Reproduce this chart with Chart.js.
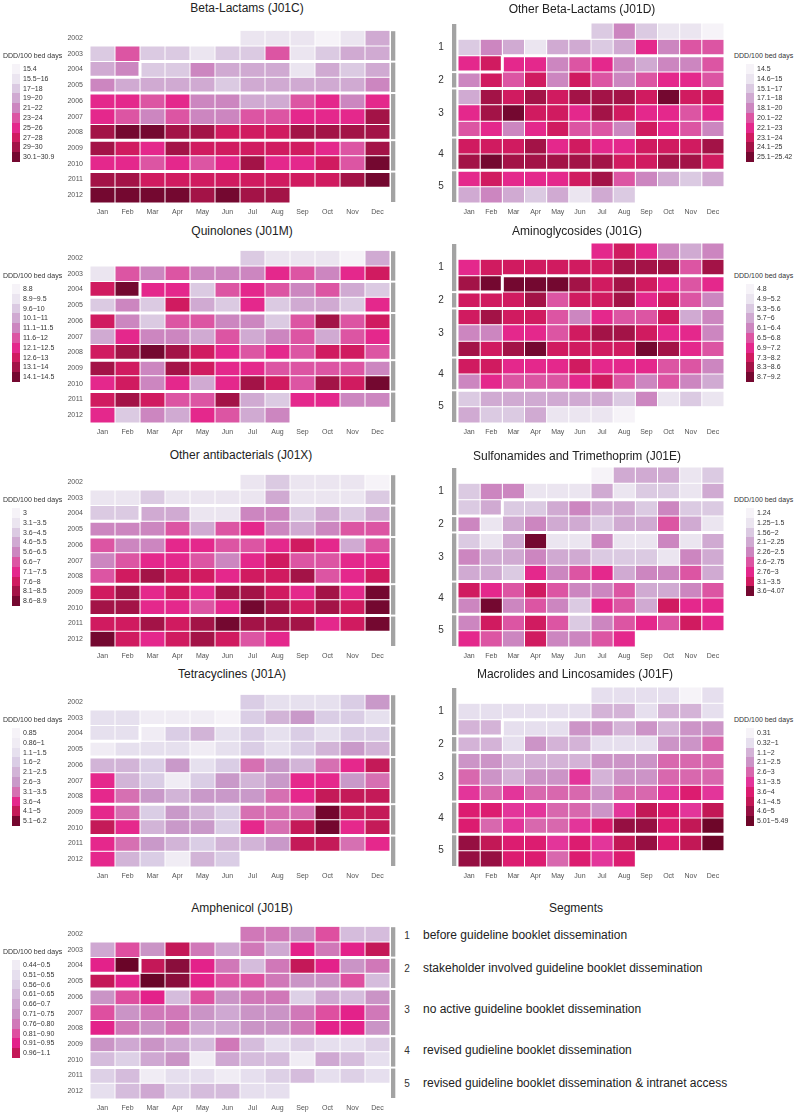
<!DOCTYPE html>
<html><head><meta charset="utf-8">
<script src="https://cdn.jsdelivr.net/npm/chart.js@4.4.1/dist/chart.umd.min.js"></script>
<style>
body{margin:0;background:#fff;width:798px;height:1116px;position:relative;overflow:hidden;font-family:"Liberation Sans",Arial,sans-serif}
canvas{position:absolute}
.tt{position:absolute;font-size:12px;color:#222;white-space:nowrap;transform:translate(-50%,-50%)}
.lt{position:absolute;font-size:7px;color:#333;white-space:nowrap;line-height:8px}
.lb{position:absolute;width:8px}
.sn{position:absolute;font-size:10px;color:#333;transform:translate(-50%,-50%)}
.sl{position:absolute;font-size:12px;color:#222;white-space:nowrap;transform:translateY(-50%)}
</style></head><body>
<script>
const months=['Jan','Feb','Mar','Apr','May','Jun','Jul','Aug','Sep','Oct','Nov','Dec'];
const years=['2002','2003','2004','2005','2006','2007','2008','2009','2010','2011','2012'];
// segment start (year, month)
const segStarts=[[2002,7],[2004,3],[2006,1],[2009,1],[2011,1]];
const segLabels=['before guideline booklet dissemination','stakeholder involved guideline booklet dissemination',
  'no active guideline booklet dissemination','revised gudieline booklet dissemination',
  'revised guideline booklet dissemination & intranet access'];
const _=null;

// cell values = legend class (0 = lowest bin)
const betaLactams=[
 [_,_,_,_,_,_,1,1,1,0,1,3],[2,5,2,2,1,2,2,5,1,2,3,3],[3,4,2,2,4,3,3,3,1,3,2,3],[4,3,3,3,3,2,3,3,3,3,3,4],
 [6,6,5,6,4,4,3,3,5,6,4,6],[6,5,4,5,4,4,5,5,6,6,6,8],[8,9,9,8,8,7,7,7,8,8,8,8],[8,7,6,8,7,7,7,7,7,6,5,8],
 [6,6,5,6,5,6,8,6,6,7,5,9],[8,8,7,7,7,7,7,7,7,7,8,9],[9,9,9,9,8,9,8,8,_,_,_,_]];
const betaBins=['15.4','15.5−16','17−18','19−20','21−22','23−24','25−26','27−28','29−30','30.1−30.9'];

const otherBeta=[
 [_,_,_,_,_,_,2,4,2,1,1,0],[2,4,3,1,3,3,2,3,6,4,5,5],[6,7,6,6,4,5,6,4,3,4,4,5],[4,7,5,7,4,7,5,4,5,6,6,5],
 [3,8,7,8,7,8,8,8,7,9,7,7],[6,8,9,7,7,6,8,7,6,6,5,6],[5,6,4,6,7,5,5,4,7,6,5,4],[7,7,7,8,6,7,6,6,7,7,7,8],
 [8,9,8,8,8,8,8,7,7,8,8,7],[6,7,6,6,6,7,8,5,4,3,2,3],[3,4,3,2,3,1,3,2,_,_,_,_]];
const otherBetaBins=['14.5','14.6−15','15.1−17','17.1−18','18.1−20','20.1−22','22.1−23','23.1−24','24.1−25','25.1−25.42'];

const quinolones=[
 [_,_,_,_,_,_,2,1,1,1,0,3],[1,5,4,5,4,4,4,6,5,4,6,7],[7,9,6,6,2,5,6,5,4,5,3,2],[2,4,2,7,3,2,6,2,3,3,2,6],
 [7,4,2,5,5,4,4,2,5,8,5,7],[3,6,4,4,3,5,3,4,5,3,5,6],[7,8,9,8,7,6,5,6,5,7,7,5],[8,7,4,8,7,6,6,5,5,5,5,4],
 [6,7,4,6,3,6,8,7,5,8,7,9],[7,8,7,5,5,8,3,2,6,6,4,4],[6,2,4,3,6,5,3,4,_,_,_,_]];
const quinBins=['8.8','8.9−9.5','9.6−10','10.1−11','11.1−11.5','11.6−12','12.1−12.5','12.6−13','13.1−14','14.1−14.5'];

const aminoglycosides=[
 [_,_,_,_,_,_,6,7,6,4,3,4],[6,7,7,7,7,7,7,8,8,8,5,8],[8,9,9,9,9,8,7,8,7,6,5,6],[7,7,7,8,5,7,7,8,6,7,5,4],
 [7,8,7,7,5,4,6,5,5,7,3,4],[4,4,6,6,5,7,8,8,7,6,6,4],[8,7,8,9,7,7,7,7,9,8,6,5],[7,7,6,6,6,7,6,6,6,5,5,4],
 [4,6,5,5,5,6,7,5,4,5,4,3],[2,3,3,3,3,3,3,2,4,1,2,1],[3,2,2,3,1,1,1,0,_,_,_,_]];
const aminoBins=['4.8','4.9−5.2','5.3−5.6','5.7−6','6.1−6.4','6.5−6.8','6.9−7.2','7.3−8.2','8.3−8.6','8.7−9.2'];

const otherAnti=[
 [_,_,_,_,_,_,1,2,1,1,1,0],[1,1,2,1,1,1,1,3,1,1,1,2],[2,2,3,3,1,1,4,4,2,3,2,3],[4,4,4,5,3,5,6,4,3,4,5,5],
 [5,4,4,6,6,5,5,6,7,6,3,5],[4,5,6,6,5,4,6,7,5,5,6,6],[5,7,8,7,7,6,7,7,8,5,6,7],[7,8,6,7,6,8,8,7,6,8,6,9],
 [8,8,6,6,5,6,9,8,7,8,7,9],[7,7,8,7,8,9,8,8,8,6,7,9],[9,7,6,7,8,7,5,6,_,_,_,_]];
const otherAntiBins=['3','3.1−3.5','3.6−4.5','4.6−5.5','5.6−6.5','6.6−7','7.1−7.5','7.6−8','8.1−8.5','8.6−8.9'];

const sulfonamides=[
 [_,_,_,_,_,_,0,3,3,3,1,2],[2,4,4,1,1,1,3,1,2,2,1,3],[2,3,2,2,3,4,3,3,2,4,2,2],[4,1,3,4,3,3,2,3,3,5,3,1],
 [2,1,3,8,1,1,4,1,1,4,1,3],[4,3,3,4,3,3,2,2,2,1,4,3],[3,3,2,6,4,5,6,3,4,4,5,3],[7,6,5,7,5,4,4,5,3,3,4,5],
 [4,8,4,5,4,2,6,5,3,7,6,6],[4,7,5,7,5,2,4,5,6,5,7,6],[6,5,4,7,4,4,5,6,_,_,_,_]];
const sulfoBins=['1.24','1.25−1.5','1.56−2','2.1−2.25','2.26−2.5','2.6−2.75','2.76−3','3.1−3.5','3.6−4.07'];

const tetracyclines=[
 [_,_,_,_,_,_,3,2,2,2,3,5],[2,2,1,1,1,0,3,4,5,3,3,2],[2,2,1,3,4,2,3,2,3,2,3,3],[1,2,2,2,1,2,3,2,3,4,5,4],
 [4,4,3,5,2,3,6,5,4,6,7,8],[7,4,3,1,3,5,4,5,7,7,5,6],[7,6,5,4,5,5,5,6,7,8,8,8],[7,6,3,5,4,3,6,6,6,9,8,8],
 [8,7,4,5,5,3,7,6,8,9,7,8],[7,6,5,4,3,4,4,5,8,8,6,7],[7,4,3,1,4,3,_,_,_,_,_,_]];
const tetraBins=['0.85','0.86−1','1.1−1.5','1.6−2','2.1−2.5','2.6−3','3.1−3.5','3.6−4','4.1−5','5.1−6.2'];

const macrolides=[
 [_,_,_,_,_,_,1,1,1,1,0,1],[1,1,1,1,1,1,2,2,1,2,2,1],[2,2,1,1,1,3,3,2,3,2,3,3],[2,2,1,3,2,2,1,1,1,3,3,4],
 [3,3,2,2,2,2,3,3,3,4,4,4],[4,3,2,3,3,5,2,3,3,4,4,4],[5,4,5,4,4,4,3,4,4,5,6,5],[6,6,5,5,4,4,3,5,7,6,5,7],
 [6,4,5,4,4,5,6,8,8,6,7,9],[8,7,6,6,5,6,5,7,8,6,7,9],[8,8,6,6,4,6,5,6,_,_,_,_]];
const macroBins=['0.31','0.32−1','1.1−2','2.1−2.5','2.6−3','3.1−3.5','3.6−4','4.1−4.5','4.6−5','5.01−5.49'];

const amphenicol=[
 [_,_,_,_,_,_,6,6,5,7,3,3],[4,7,5,9,6,4,6,4,8,6,8,9],[8,11,9,10,8,6,3,6,9,8,5,6],[9,8,11,10,8,7,7,6,5,5,7,3],
 [5,7,8,3,7,5,6,6,2,4,3,5],[7,5,6,6,5,4,5,5,6,7,8,6],[8,6,5,6,4,4,5,5,6,8,8,5],[5,4,5,4,3,6,3,1,2,1,1,2],
 [3,2,4,5,0,4,3,3,0,4,3,1],[2,3,0,1,1,0,1,2,3,1,2,1],[1,3,4,2,3,3,1,1,_,_,_,_]];
const amphBins=['0.44−0.5','0.51−0.55','0.56−0.6','0.61−0.65','0.66−0.7','0.71−0.75','0.76−0.80','0.81−0.90','0.91−0.95','0.96−1.1'];

// colour ramps
const palStd=['#f6f3f8','#ebe5f0','#dbcae2','#d0aad2','#cc86c0','#dc55a3','#e4288c','#d01b60','#a31347','#740830'];
const palSulfo=palStd.filter((c,i)=>i!==8);
const palTetra=['#f6f3f8','#f0ecf4','#e6e0ee','#dacde5','#d2b4d7','#c999c9','#d670b2','#e5288c','#c41a58','#74072e'];
const palMacro=['#f6f3f8','#e6dfee','#d4b3d7','#cc94c7','#d868ae','#e3359a','#dc1c70','#c21856','#960f42','#6e0629'];
const palAmph=['#f0ecf4','#e6dfee','#ddd0e6','#d5bcdc','#cfa8d2','#ca94c6','#d078b8','#de4fa0','#e3228a','#c41858','#8a0e3c','#6a0528'];

const panels=[
 {title:'Beta-Lactams (J01C)',rows:betaLactams,bins:betaBins,pal:palStd,col:'L',top:23,tx:247,ty:8},
 {title:'Other Beta-Lactams (J01D)',rows:otherBeta,bins:otherBetaBins,pal:palStd,col:'R',top:23,tx:582,ty:9},
 {title:'Quinolones (J01M)',rows:quinolones,bins:quinBins,pal:palStd,col:'L',top:243,tx:242,ty:231},
 {title:'Aminoglycosides (J01G)',rows:aminoglycosides,bins:aminoBins,pal:palStd,col:'R',top:243,tx:577,ty:231},
 {title:'Other antibacterials (J01X)',rows:otherAnti,bins:otherAntiBins,pal:palStd,col:'L',top:467,tx:241,ty:455},
 {title:'Sulfonamides and Trimethoprim (J01E)',rows:sulfonamides,bins:sulfoBins,pal:palSulfo,col:'R',top:467,tx:577,ty:456},
 {title:'Tetracyclines (J01A)',rows:tetracyclines,bins:tetraBins,pal:palTetra,col:'L',top:687,tx:232,ty:674},
 {title:'Macrolides and Lincosamides (J01F)',rows:macrolides,bins:macroBins,pal:palMacro,col:'R',top:687,tx:575,ty:674},
 {title:'Amphenicol (J01B)',rows:amphenicol,bins:amphBins,pal:palAmph,col:'L',top:919,tx:242,ty:908}
];

const FONT='"Liberation Sans", Arial, sans-serif';
Chart.defaults.font.family=FONT;
const rowH=180/11;

function segOf(r,m){
  const key=(2002+r)*12+m; let s=0;
  segStarts.forEach((d,i)=>{ if(key>=d[0]*12+d[1]-1) s=i; });
  return s;
}
function runs(m){
  const out=[]; let start=0;
  for(let r=1;r<=11;r++){
    if(r===11||segOf(r,m)!==segOf(start,m)){ out.push([start,r,segOf(start,m)]); start=r; }
  }
  return out;
}
function cellBorder(r,m){
  const s=segOf(r,m);
  const side=(r2,m2)=>(r2<0||r2>10||m2<0||m2>11)?0.5:(segOf(r2,m2)!==s?1.5:0.5);
  return {top:side(r-1,m),bottom:side(r+1,m),left:side(r,m-1),right:side(r,m+1)};
}

const segBars={id:'segBars',afterDraw(chart,args,o){
  const {ctx,chartArea:ca,scales:{y}}=chart;
  const L=o.col==='L';
  runs(L?11:0).forEach(([a,b,s])=>{
    const y0=y.getPixelForValue(a)+1, y1=y.getPixelForValue(b)-1;
    ctx.fillStyle='#a3a3a3';
    ctx.fillRect(L?ca.right+1:ca.left-6,y0,4.3,y1-y0);
    if(!L){
      ctx.fillStyle='#333'; ctx.font='10px '+FONT; ctx.textAlign='center'; ctx.textBaseline='middle';
      ctx.fillText(String(s+1),ca.left-17,(y0+y1)/2);
    }
  });
}};

function el(cls,css,text){
  const d=document.createElement('div'); d.className=cls; d.style.cssText=css;
  if(text!=null) d.textContent=text; document.body.appendChild(d); return d;
}

panels.forEach(p=>{
  const L=p.col==='L';
  const W=L?342:334, H=202;
  const cv=document.createElement('canvas');
  cv.width=W; cv.height=H;
  cv.style.cssText=`left:${L?56:396}px;top:${p.top-4}px;width:${W}px;height:${H}px`;
  document.body.appendChild(cv);
  const datasets=p.rows.map((row,r)=>({
    data:row.map(v=>v==null?null:[r,r+1]),
    backgroundColor:row.map(v=>v==null?'rgba(0,0,0,0)':p.pal[v]),
    borderColor:'#fff',
    borderWidth:c=>cellBorder(r,c.dataIndex),
    borderSkipped:false,inflateAmount:0,grouped:false,barPercentage:1,categoryPercentage:1
  }));
  new Chart(cv,{type:'bar',data:{labels:months,datasets},
    options:{responsive:false,animation:false,devicePixelRatio:1,
      layout:{padding:L?{left:0,right:8,top:4,bottom:2}:{left:28,right:6,top:4,bottom:2}},
      plugins:{legend:{display:false},tooltip:{enabled:false},segBars:{col:p.col}},
      scales:{
        x:{type:'category',offset:true,grid:{display:false,drawTicks:false},border:{display:false},
           ticks:{font:{size:7},color:'#555',padding:5,maxRotation:0,autoSkip:false},
           afterFit:a=>{a.height=16;}},
        y:{type:'linear',min:0,max:11,reverse:true,display:L,
           grid:{display:false,drawTicks:false},border:{display:false},
           afterBuildTicks:a=>{a.ticks=years.map((_y,i)=>({value:i+0.5}));},
           ticks:{font:{size:7},color:'#555',padding:7,callback:v=>years[Math.floor(v)]},
           afterFit:a=>{a.width=34;}}
      }},
    plugins:[segBars]});

  el('tt',`left:${p.tx}px;top:${p.ty}px`,p.title);
  const lx=L?3:734, bx=L?12:746, tx=L?23:757;
  const gt=p.top;
  el('lt',`left:${lx}px;top:${gt+29}px`,'DDD/100 bed days');
  p.bins.forEach((b,i)=>{
    const t=gt+41+i*9.8;
    el('lb',`left:${bx}px;top:${t}px;height:10px;background:${p.pal[i]}`);
    el('lt',`left:${tx}px;top:${t}px;line-height:9.8px`,b);
  });
});

// Segments key
el('tt','left:576px;top:908px','Segments');
runs(11).forEach(([a,b,s])=>{
  const yc=919+rowH*(a+b)/2;
  el('sn',`left:407px;top:${yc}px`,String(s+1));
  el('sl',`left:423px;top:${yc}px`,segLabels[s]);
});
</script>
</body></html>
